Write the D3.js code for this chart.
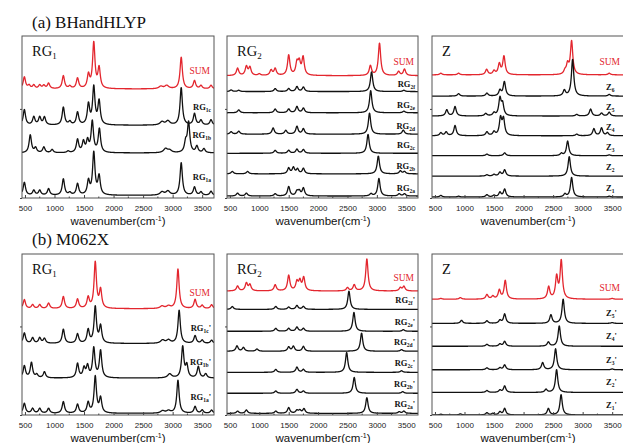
<!DOCTYPE html>
<html><head><meta charset="utf-8">
<script src="https://cdn.jsdelivr.net/npm/d3@7/dist/d3.min.js"></script>
<style>body{margin:0;background:#fff}svg{display:block}</style>
</head><body>
<svg id="chart" width="623" height="443"></svg>
<script>
// ---------------- DATA ----------------
const xTicks = [500, 1000, 1500, 2000, 2500, 3000, 3500];
const yTicks = [0, 55];
const xDomain = [450, 3700];
const titles = ["(a) BHandHLYP", "(b) M062X"];
const axisTitle = "wavenumber(cm";

// peaks: [wavenumber, height (a.u.), optional half-width]
// ---- (a) BHandHLYP, RG1 ----
const a1Names = ["SUM", "RG1c", "RG1b", "RG1a"];
const a1Offsets = [67.3, 44.9, 27.8, 1.6];
const a1Peaks = [
  [[490,7.3],[570,2],[650,2.2],[750,2.2],[820,2],[900,3.3],[1150,8],[1260,1.5],[1390,6.5],[1575,8.2],[1665,28],[1755,12.5],[2800,1.5,40],[2900,2,40],[3145,19.5],[3370,5],[3480,2],[3650,2.2]],
  [[490,9.5],[650,5],[750,4.8],[830,4.8],[1150,11],[1260,2],[1390,7.8],[1575,12.5],[1665,23],[1755,14.5],[2820,2,40],[2920,2.5,40],[3145,23],[3370,7],[3480,3],[3650,3.3]],
  [[590,11],[680,3],[820,3.5],[960,2],[1230,1],[1390,8],[1490,6.5],[1560,7],[1640,19],[1760,14.5],[2880,2.5,40],[2950,1.5,40],[3220,6],[3270,18.5],[3410,4],[3530,2.5]],
  [[490,8],[650,3],[750,3],[900,4],[1150,10],[1260,1.5],[1390,7],[1575,8.5],[1665,26],[1755,11.5],[2820,2,40],[2920,2.5,40],[3145,20],[3370,5],[3480,2],[3650,2.5]]
];
// ---- (a) BHandHLYP, RG2 ----
const a2Names = ["SUM", "RG2f", "RG2e", "RG2d", "RG2c", "RG2b", "RG2a"];
const a2Offsets = [75.5, 65.7, 52.6, 39.4, 27.6, 14.9, 1.2];
const a2Peaks = [
  [[630,4.5],[780,5.5],[840,5],[1000,1],[1200,3.3],[1270,4.2],[1500,12.5],[1640,7.2],[1680,7.5],[1745,11],[2890,6],[3045,20],[3370,2.5],[3470,4]],
  [[520,1],[650,0.8],[1270,1.8],[1500,1.8],[1640,3],[1750,2.7],[2910,12.2],[3460,0.8]],
  [[650,1.8],[1270,2.3],[1500,2.3],[1640,3.8],[1750,2.8],[2895,13.7],[3460,1]],
  [[520,1.5],[650,1.8],[1235,3.8],[1450,2.3],[1640,4.8],[1750,3.3],[2875,13],[3450,2.5]],
  [[1270,1.8],[1500,1.8],[1640,2.5],[1750,2.3],[2850,11.7]],
  [[540,1.5],[800,1.5],[1500,3.5],[1580,3.8],[1650,2.8],[1750,3.3],[3025,11],[3400,1.8],[3470,1.4]],
  [[630,1.8],[780,1.8],[1270,1.4],[1500,5.8],[1640,2.8],[1680,2.8],[1750,4.8],[2900,1.4],[3035,10.8],[3380,1.4],[3470,1.4]]
];
// ---- (a) BHandHLYP, Z ----
const a3Names = ["SUM", "Z6", "Z5", "Z4", "Z3", "Z2", "Z1"];
const a3Offsets = [76, 62.9, 50.6, 38.4, 26.1, 13.5, 0.6];
const a3Peaks = [
  [[600,1],[900,1],[1375,3.3],[1500,2.3],[1590,6.5],[1668,11.3],[2700,2],[2745,6],[2813,20.5],[3450,1]],
  [[900,1.5],[1380,1.8],[1600,3.5],[1675,8.8],[2690,3.5],[2830,22.6],[3450,1]],
  [[700,3.8],[840,5.8],[1360,1.5],[1500,1.8],[1600,10.5],[1645,7],[2900,1],[3135,4.3],[3320,1.8],[3450,2.3]],
  [[600,1.8],[690,2.3],[840,6.3],[1380,2.3],[1500,2.3],[1610,10.5],[1660,10],[2900,1],[3190,4.3],[3320,4.8],[3420,1.8]],
  [[1380,1],[1680,1.8],[2640,1.4],[2746,9],[3450,0.5]],
  [[1380,0.8],[1500,1],[1600,2.3],[1680,3.8],[2773,12]],
  [[600,1],[900,0.5],[1380,1.4],[1500,1],[1600,2.8],[1680,4.8],[2700,1.8],[2813,12],[3450,0.5]]
];
// ---- (b) M062X, RG1 ----
const b1Names = ["SUM", "RG1c'", "RG1b'", "RG1a'"];
const b1Offsets = [66, 44.4, 22.9, 1];
const b1Peaks = [
  [[490,5.6],[630,2.4],[750,2.4],[900,3.4],[1150,7.5],[1390,5.8],[1570,6.7],[1690,28.5],[1780,11.3],[2820,1.5,40],[2930,1.5,40],[3090,24.5],[3380,5.6],[3500,2],[3660,2.4]],
  [[490,6.5],[630,3.4],[750,3.4],[830,3],[1150,8.8],[1390,5.8],[1570,8.3],[1690,22.5],[1780,10.5],[2830,2,40],[2930,2,40],[3110,20.5],[3380,4.8],[3500,2],[3660,2]],
  [[490,7.5],[610,9.5],[700,2],[830,3.8],[1390,8.8],[1500,5.8],[1560,7],[1665,18.3],[1780,16.8],[2950,2.5,40],[3170,19.3],[3240,7.5],[3435,7],[3560,2.6]],
  [[490,6.2],[630,3],[750,3],[900,3],[1150,7.2],[1390,5.5],[1570,6.5],[1690,22.6],[1780,9.2],[2830,1.5,40],[2930,1.5,40],[3090,20.5],[3380,4.2],[3500,2],[3660,2]]
];
// ---- (b) M062X, RG2 ----
const b2Names = ["SUM", "RG2f'", "RG2e'", "RG2d'", "RG2c'", "RG2b'", "RG2a'"];
const b2Offsets = [77, 65.6, 52, 39.6, 26.5, 13.5, 1];
const b2Peaks = [
  [[630,3],[780,4.8],[840,3.8],[1270,3.8],[1500,9.6],[1640,5.4],[1690,5.8],[1755,8.1],[2500,2],[2615,3.8],[2830,19.8],[3400,2],[3460,2.8]],
  [[540,1.8],[1280,1.8],[1500,1.4],[1640,2.4],[1750,1.8],[2525,11.3]],
  [[1280,1.8],[1500,1.8],[1640,2.6],[1750,1.8],[2610,11.7],[3450,1]],
  [[620,3.3],[730,2.3],[960,1.4],[1500,2.6],[1580,3],[1750,3],[2740,11.3],[3420,1]],
  [[1280,1.8],[1640,3.2],[1750,1.8],[2486,12.3],[3420,1]],
  [[1280,1.4],[1640,2.4],[1750,1.4],[2615,9.8],[3440,1]],
  [[630,1.4],[780,2.1],[1280,1.4],[1500,3.6],[1640,1.8],[1690,1.8],[1760,2.8],[2830,9.8],[3380,1],[3460,1.4]]
];
// ---- (b) M062X, Z ----
const b3Names = ["SUM", "Z5'", "Z4'", "Z3'", "Z2'", "Z1'"];
const b3Offsets = [71.9, 56.9, 42.7, 28.1, 14, 0];
const b3Peaks = [
  [[600,0.5],[930,1],[1380,2.8],[1480,1.8],[1590,5.5],[1690,11.5],[2425,7.5],[2560,13.5],[2638,23.5],[3500,0.5]],
  [[950,1.9],[1380,1.6],[1600,1.9],[1680,5.8],[2463,5.3],[2670,15],[3500,0.5]],
  [[1380,1.2],[1600,1.4],[1680,3],[2420,2.6],[2604,12.6]],
  [[1380,1.2],[1600,1.2],[1680,3],[2323,4.4],[2542,13],[3500,0.5]],
  [[1380,1.2],[1600,1.4],[1680,4],[2380,1.9],[2559,14.2]],
  [[600,0.5],[930,0.7],[1380,1.4],[1480,1],[1600,1.9],[1680,4],[2420,4],[2635,12.6]]
];

// ---------------- LAYOUT ----------------
const svg = d3.select("#chart");
const RED = "#e3262e", BLACK = "#111";
const SERIF = "'Liberation Serif','Times New Roman',serif";
const SANS = "'Liberation Sans',Arial,sans-serif";
const NARROW = "'Liberation Sans Narrow','Arial Narrow','Liberation Sans',sans-serif";
const HWHM = 24;

const panels = [
  {x:22,  y:36,  w:192, h:162, label:["RG","1"], names:a1Names, offsets:a1Offsets, peaks:a1Peaks, gap:15, sumGap:15, zstyle:false},
  {x:227, y:36,  w:191, h:162, label:["RG","2"], names:a2Names, offsets:a2Offsets, peaks:a2Peaks, gap:5,  sumGap:11, zstyle:false},
  {x:432, y:36,  w:192, h:162, label:["Z",""],   names:a3Names, offsets:a3Offsets, peaks:a3Peaks, gap:6,  sumGap:10, zstyle:true},
  {x:22,  y:254, w:192, h:161, label:["RG","1"], names:b1Names, offsets:b1Offsets, peaks:b1Peaks, gap:13, sumGap:13, zstyle:false},
  {x:227, y:254, w:191, h:161, label:["RG","2"], names:b2Names, offsets:b2Offsets, peaks:b2Peaks, gap:6,  sumGap:10, zstyle:false},
  {x:432, y:254, w:192, h:161, label:["Z",""],   names:b3Names, offsets:b3Offsets, peaks:b3Peaks, gap:7,  sumGap:8,  zstyle:true}
];

const grid = d3.range(xDomain[0], xDomain[1] + 1, 2);
function spectrum(peaks) {
  return grid.map(w => {
    let s = 0;
    for (const p of peaks) {
      const g = p[2] || HWHM;
      const t = (w - p[0]) / g;
      s += p[1] / (1 + t * t);
    }
    return [w, s];
  });
}
function parseName(n) {
  const m = n.match(/^([A-Z]+)([0-9a-z]*)('?)$/);
  return {base: m[1], sub: m[2], prime: m[3]};
}

// titles
svg.append("text").attr("x", 32).attr("y", 28).attr("font-family", SERIF).attr("font-size", 17).attr("fill", "#111").text(titles[0]);
svg.append("text").attr("x", 32).attr("y", 245).attr("font-family", SERIF).attr("font-size", 17).attr("fill", "#111").text(titles[1]);

panels.forEach((P, pi) => {
  const g = svg.append("g");
  const x = d3.scaleLinear().domain(xDomain).range([P.x, P.x + P.w]);
  const y = d3.scaleLinear().domain([0, 100]).range([P.y + P.h, P.y]);
  const clipId = "clip" + pi;
  svg.append("clipPath").attr("id", clipId).append("rect")
    .attr("x", P.x).attr("y", P.y - 2).attr("width", P.w).attr("height", P.h + 2);

  const line = d3.line().x(d => x(d[0])).y(d => y(d[1])).curve(d3.curveMonotoneX);
  const traces = g.append("g").attr("clip-path", `url(#${clipId})`);
  P.names.forEach((n, i) => {
    const data = spectrum(P.peaks[i]).map(d => [d[0], d[1] + P.offsets[i]]);
    traces.append("path").datum(data).attr("d", line)
      .attr("fill", "none").attr("stroke", n === "SUM" ? RED : BLACK)
      .attr("stroke-width", 1.3).attr("stroke-linejoin", "round");
  });

  // frame
  g.append("rect").attr("x", P.x).attr("y", P.y).attr("width", P.w).attr("height", P.h)
    .attr("fill", "none").attr("stroke", "#555").attr("stroke-width", 1);

  // x axis
  const ax = g.append("g").attr("transform", `translate(0,${P.y + P.h})`)
    .call(d3.axisBottom(x).tickValues(xTicks).tickSize(-3).tickPadding(7).tickFormat(d3.format("d")));
  ax.select(".domain").remove();
  ax.selectAll("line").attr("stroke", "#444");
  ax.selectAll("text").attr("font-family", NARROW).attr("font-size", 8).attr("fill", "#222");
  const minor = d3.range(750, 3700, 500);
  g.selectAll(null).data(minor).enter().append("line")
    .attr("x1", d => x(d)).attr("x2", d => x(d))
    .attr("y1", P.y + P.h).attr("y2", P.y + P.h - 1.5).attr("stroke", "#444");

  // y axis (unlabelled ticks only)
  const ay = g.append("g").attr("transform", `translate(${P.x},0)`)
    .call(d3.axisLeft(y).tickValues(yTicks).tickSize(2).tickFormat(""));
  ay.select(".domain").remove();
  ay.selectAll("line").attr("stroke", "#444");

  // x axis title
  const xt = g.append("text").attr("x", P.x + 96).attr("y", P.y + P.h + 27)
    .attr("text-anchor", "middle").attr("font-family", SANS).attr("font-size", 11.5).attr("fill", "#111");
  xt.append("tspan").text(axisTitle);
  xt.append("tspan").attr("dy", -4).attr("font-size", 7).text("-1");
  xt.append("tspan").attr("dy", 4).text(")");

  // panel label
  const pl = g.append("text").attr("x", P.x + 10).attr("y", P.y + 20)
    .attr("font-family", SERIF).attr("font-size", 14.5).attr("fill", "#111");
  pl.append("tspan").text(P.label[0]);
  if (P.label[1]) pl.append("tspan").attr("dy", 3).attr("font-size", 9).text(P.label[1]);

  // trace labels
  P.names.forEach((n, i) => {
    const ly = y(P.offsets[i]) - (n === "SUM" ? P.sumGap : P.gap);
    if (n === "SUM") {
      g.append("text").attr("x", P.x + P.w - 4).attr("y", ly)
        .attr("text-anchor", "end").attr("font-family", SERIF).attr("font-size", 9.5)
        .attr("fill", RED).text("SUM");
      return;
    }
    const nm = parseName(n);
    const t = g.append("text").attr("y", ly).attr("font-family", SERIF)
      .attr("font-size", 8.5).attr("font-weight", "bold").attr("fill", "#111");
    if (P.zstyle) t.attr("x", P.x + 174).attr("text-anchor", "start");
    else t.attr("x", P.x + P.w - 3).attr("text-anchor", "end");
    t.append("tspan").text(nm.base);
    t.append("tspan").attr("dy", 2).attr("font-size", 5.5).text(nm.sub);
    if (nm.prime) t.append("tspan").attr("dy", -2).attr("font-size", 8.5).text("'");
  });
});
</script>
</body></html>
